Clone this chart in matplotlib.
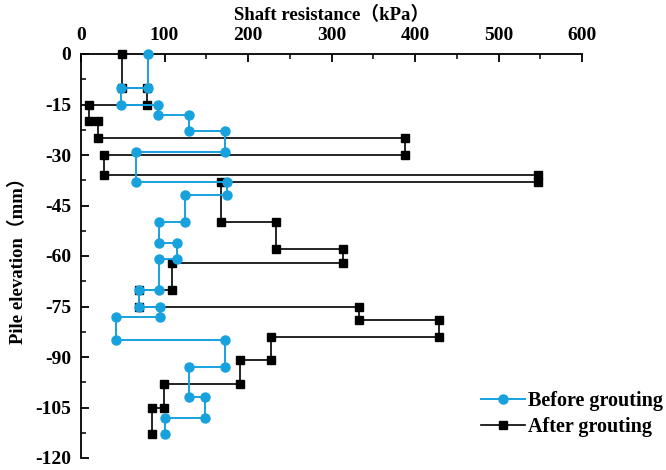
import matplotlib
matplotlib.use("Agg")
import matplotlib.pyplot as plt
from matplotlib.ticker import MultipleLocator

# Before grouting: (shaft resistance kPa, elevation mm)
before_x = [80, 80, 48, 48, 92, 92, 129, 129, 172, 172, 66, 66, 175, 175, 125, 125,
            94, 94, 115, 115, 93, 93, 70, 70, 95, 95, 42, 42, 173, 173, 129, 129,
            149, 149, 101, 101]
before_y = [0, -10, -10, -15, -15, -18, -18, -23, -23, -29, -29, -38, -38, -42, -42, -50,
            -50, -56, -56, -61, -61, -70, -70, -75, -75, -78, -78, -85, -85, -93, -93, -102,
            -102, -108, -108, -113]

after_x = [49, 49, 79, 79, 9, 9, 20, 20, 388, 388, 28, 28, 547, 547, 168, 168,
           234, 234, 314, 314, 109, 109, 70, 70, 333, 333, 429, 429, 228, 228, 190, 190,
           99, 99, 85, 85]
after_y = [0, -10, -10, -15, -15, -20, -20, -25, -25, -30, -30, -36, -36, -38, -38, -50,
           -50, -58, -58, -62, -62, -70, -70, -75, -75, -79, -79, -84, -84, -91, -91, -98,
           -98, -105, -105, -113]

x_ticks = [0, 100, 200, 300, 400, 500, 600]
y_ticks = [0, -15, -30, -45, -60, -75, -90, -105, -120]

serif = ['Liberation Serif', 'Noto Sans CJK SC', 'DejaVu Sans']
plt.rcParams['font.family'] = serif
plt.rcParams['font.weight'] = 'bold'
plt.rcParams['axes.unicode_minus'] = False

fig = plt.figure(figsize=(6.66, 4.70), dpi=100)
ax = fig.add_axes([81/666, 1-458/470, (582-81)/666, (458-54)/470])

blue = '#17a2de'
ax.plot(after_x, after_y, color='black', lw=1.2, marker='s', ms=5.5,
        mfc='black', mec='black', label='After grouting', zorder=2, clip_on=False)
ax.plot(before_x, before_y, color=blue, lw=1.4, marker='o', ms=6.5,
        mfc=blue, mec=blue, label='Before grouting', zorder=3, clip_on=False)

ax.set_xlim(0, 600)
ax.set_ylim(-120, 0)
ax.xaxis.tick_top()
ax.xaxis.set_label_position('top')
ax.set_xticks(x_ticks)
ax.set_yticks(y_ticks)
ax.xaxis.set_minor_locator(MultipleLocator(50))
ax.yaxis.set_minor_locator(MultipleLocator(7.5))
ax.tick_params(axis='both', which='major', direction='in', length=6, width=1.3,
               labelsize=14, pad=7)
ax.tick_params(axis='both', which='minor', direction='in', length=3.5, width=1.1)
ax.tick_params(axis='x', which='both', top=True, bottom=False)
ax.tick_params(axis='y', which='both', left=True, right=False)
for lab in ax.get_xticklabels() + ax.get_yticklabels():
    lab.set_fontweight('bold')

ax.spines['right'].set_visible(False)
ax.spines['bottom'].set_visible(False)
ax.spines['top'].set_linewidth(1.3)
ax.spines['left'].set_linewidth(1.3)

ax.set_xlabel('Shaft resistance（kPa）', fontsize=13.5, fontweight='bold', labelpad=5)
ax.set_ylabel('Pile elevation（mm）', fontsize=13.5, fontweight='bold', labelpad=6)

handles, labels = ax.get_legend_handles_labels()
leg = fig.legend([handles[1], handles[0]], [labels[1], labels[0]],
                 loc='center left', bbox_to_anchor=(0.722, 0.12), frameon=False,
                 prop={'family': serif, 'weight': 'bold', 'size': 14.5},
                 handlelength=2.2, handletextpad=0.15, labelspacing=0.3,
                 borderaxespad=0, borderpad=0)

fig.savefig('out.png', dpi=100)
